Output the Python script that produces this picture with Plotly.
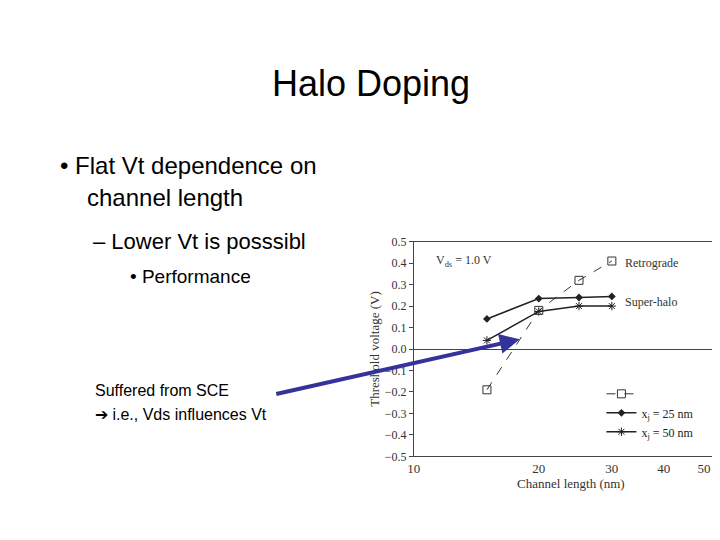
import math
import plotly.graph_objects as go

length_nm = [15, 20, 25, 30]
retrograde_vt = [-0.19, 0.18, 0.32, 0.41]
superhalo_25_vt = [0.14, 0.235, 0.24, 0.245]
superhalo_50_vt = [0.04, 0.175, 0.20, 0.20]

serif = "Liberation Serif"
fig = go.Figure()
fig.add_trace(go.Scatter(x=length_nm, y=retrograde_vt, mode="lines+markers", name=" ",
                         line=dict(color="#333", width=1, dash="dash"),
                         marker=dict(symbol="square-open", size=8, color="#333")))
fig.add_trace(go.Scatter(x=length_nm, y=superhalo_25_vt, mode="lines+markers", name="x<sub>j</sub> = 25 nm",
                         line=dict(color="#222", width=1.5),
                         marker=dict(symbol="diamond", size=6, color="#222")))
fig.add_trace(go.Scatter(x=length_nm, y=superhalo_50_vt, mode="lines+markers", name="x<sub>j</sub> = 50 nm",
                         line=dict(color="#222", width=1.5),
                         marker=dict(symbol="asterisk-open", size=7, color="#222")))

fig.update_layout(
    width=720, height=540, margin=dict(l=0, r=0, t=0, b=0),
    paper_bgcolor="white", plot_bgcolor="white", showlegend=True,
    legend=dict(x=0.96, y=0.18, xanchor="right", yanchor="bottom", bgcolor="rgba(0,0,0,0)",
                font=dict(family=serif, size=12, color="#222"), tracegroupgap=2),
    xaxis=dict(type="log", domain=[0.56, 1.0], range=[1, 1.757],
               tickvals=[10, 20, 30, 40, 50], ticktext=["10", "20", "30", "40", "50"],
               showgrid=False, showline=True, linecolor="#444", mirror=True, ticks="",
               tickfont=dict(family=serif, size=13, color="#333"),
               title=dict(text="Channel length (nm)", font=dict(family=serif, size=13, color="#333"), standoff=2)),
    yaxis=dict(domain=[0.161, 0.569], range=[-0.5, 0.5], dtick=0.1, tickformat=".1f",
               showgrid=False, showline=True, linecolor="#444", ticks="outside", ticklen=4,
               zeroline=True, zerolinecolor="#444", zerolinewidth=1,
               tickfont=dict(family=serif, size=12, color="#333"),
               title=dict(text="Threshold voltage (V)", font=dict(family=serif, size=13, color="#333"), standoff=2)),
)

ann = [
    dict(text="Halo Doping", x=0.5, y=70, size=36, xanchor="center"),
    dict(text="• Flat Vt dependence on", x=44 / 720, y=155, size=24),
    dict(text="channel length", x=72 / 720, y=187, size=24),
    dict(text="– Lower Vt is posssibl", x=78 / 720, y=233, size=22),
    dict(text="• Performance", x=115 / 720, y=268, size=19),
    dict(text="Suffered from SCE", x=80 / 720, y=385, size=16),
    dict(text="➔ i.e., Vds influences Vt", x=80 / 720, y=410, size=16),
]
for a in ann:
    fig.add_annotation(text=a["text"], x=a["x"], y=1 - a["y"] / 540, xref="paper", yref="paper",
                       xanchor=a.get("xanchor", "left"), yanchor="middle", showarrow=False,
                       font=dict(family="Liberation Sans", size=a["size"], color="black"))

for txt, x, y in [("V<sub>ds</sub> = 1.0 V", 11.2, 0.41), ("Retrograde", 32, 0.4), ("Super-halo", 32, 0.22)]:
    fig.add_annotation(text=txt, x=math.log10(x), y=y, xref="x", yref="y", xanchor="left", showarrow=False,
                       font=dict(family=serif, size=12, color="#333"))

# SCE arrow
fig.add_annotation(x=510 / 720, y=1 - 333 / 540, ax=-245, ay=55,
                   xref="paper", yref="paper", axref="pixel", ayref="pixel", text="",
                   showarrow=True, arrowhead=2, arrowsize=1, arrowwidth=4, arrowcolor="#333399")

fig.write_html("out.html")
